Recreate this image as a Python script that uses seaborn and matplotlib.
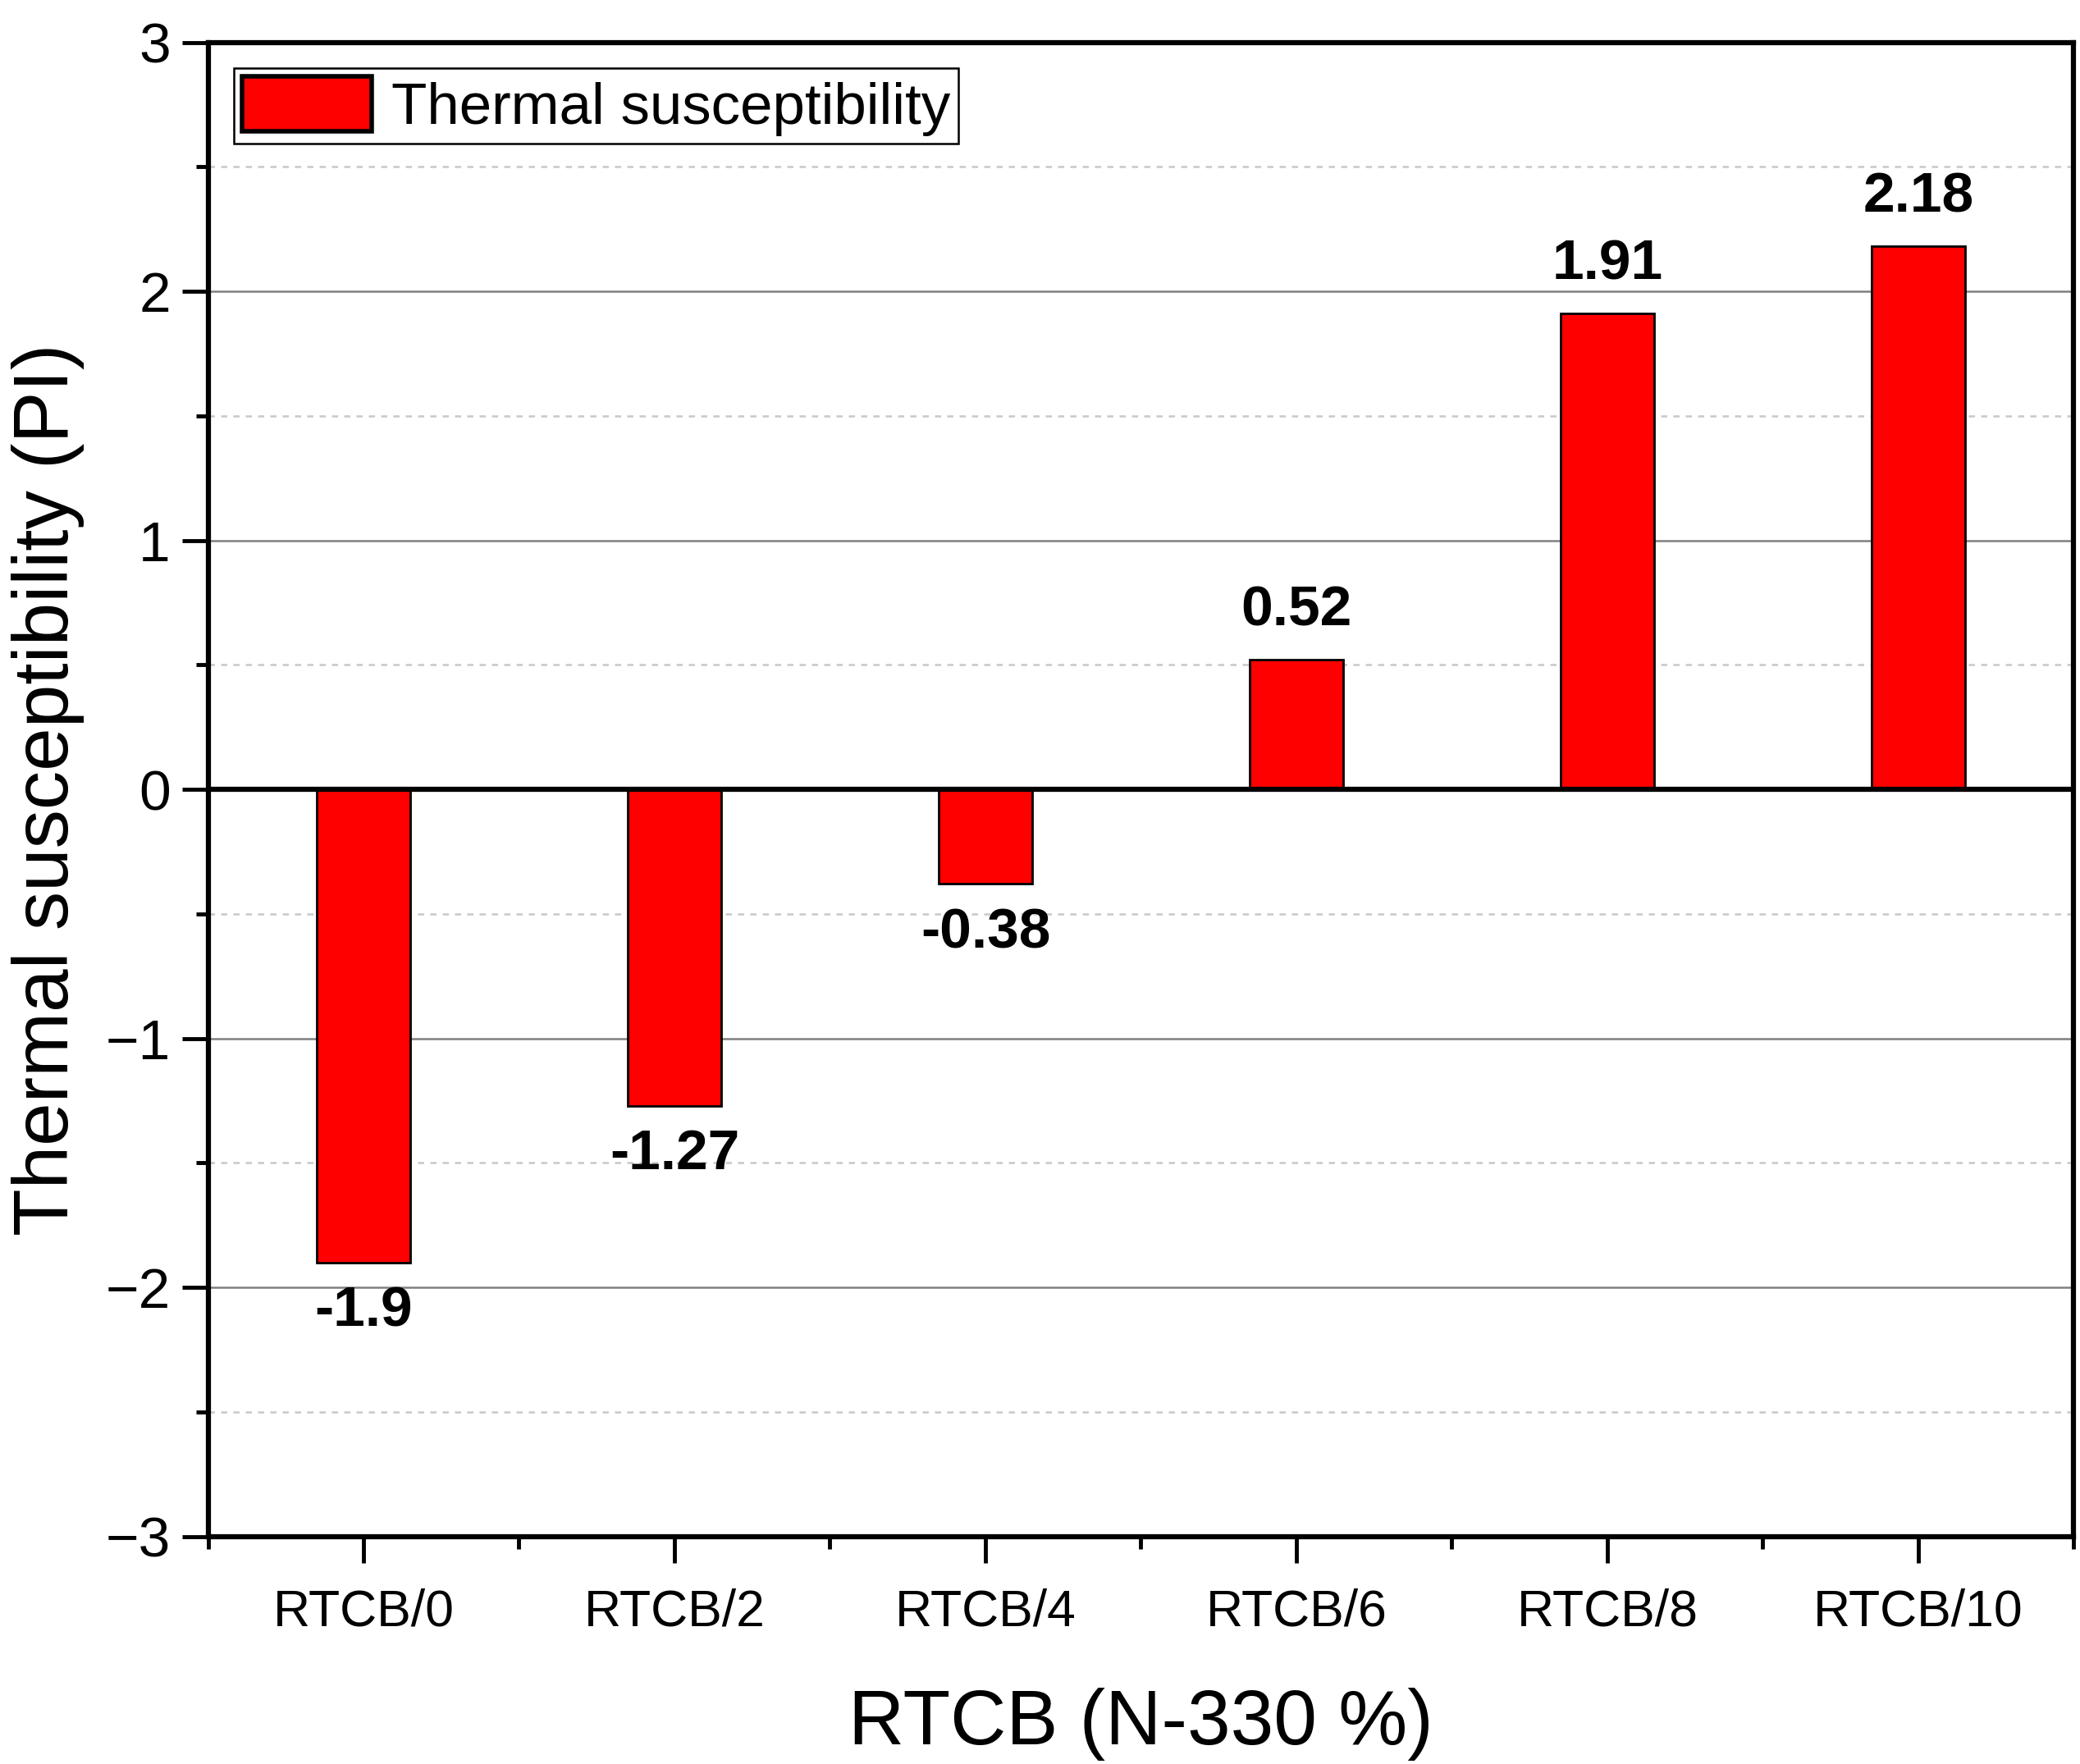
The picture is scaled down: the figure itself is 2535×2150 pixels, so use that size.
import matplotlib
matplotlib.use("Agg")
from matplotlib import pyplot as plt
from matplotlib.ticker import MultipleLocator, FixedLocator
import seaborn as sns

categories = ["RTCB/0", "RTCB/2", "RTCB/4", "RTCB/6", "RTCB/8", "RTCB/10"]
values = [-1.9, -1.27, -0.38, 0.52, 1.91, 2.18]
series_name = "Thermal susceptibility"

sns.set_style("white")
plt.rcParams["font.family"] = ["Liberation Sans", "DejaVu Sans"]
plt.rcParams["text.color"] = "black"
plt.rcParams["axes.labelcolor"] = "black"
plt.rcParams["xtick.color"] = "black"
plt.rcParams["ytick.color"] = "black"

fig = plt.figure(figsize=(25.35, 21.5), dpi=100)
ax = fig.add_axes([0.100, 0.129, 0.897, 0.847])

sns.barplot(x=categories, y=values, color="#ff0000", saturation=1,
            edgecolor="black", linewidth=2.0, width=0.3,
            label=series_name, ax=ax, zorder=3)

ax.set_xlim(-0.5, 5.5)
ax.set_ylim(-3, 3)

# grid
ax.yaxis.set_major_locator(MultipleLocator(1))
ax.yaxis.set_minor_locator(MultipleLocator(0.5))
ax.xaxis.set_minor_locator(FixedLocator([i - 0.5 for i in range(len(categories) + 1)]))
ax.grid(axis="y", which="major", color="#808080", linewidth=1.8, linestyle="-", zorder=0)
ax.grid(axis="y", which="minor", color="#c8c8c8", linewidth=1.8, linestyle=(0, (3, 3)), zorder=0)
ax.set_axisbelow(True)
ax.axhline(0, color="black", linewidth=4.5, zorder=4)

for sp in ax.spines.values():
    sp.set_linewidth(4.5)
    sp.set_color("black")
    sp.set_visible(True)

ax.tick_params(axis="both", which="both", bottom=True, left=True, top=False, right=False,
               direction="out", color="black", labelcolor="black")
ax.tick_params(axis="both", which="major", length=23, width=3.5)
ax.tick_params(axis="both", which="minor", length=11, width=3.5)
ax.tick_params(axis="y", which="major", labelsize=50, pad=10)
ax.tick_params(axis="x", which="major", labelsize=45, pad=22)

ax.set_xlabel("RTCB (N-330 %)", fontsize=68, labelpad=45)
ax.set_ylabel("Thermal susceptibility (PI)", fontsize=68, labelpad=18)

for i, v in enumerate(values):
    off = 20 if v > 0 else -20
    ax.annotate(f"{v:g}", xy=(i, v), xytext=(0, off), textcoords="offset points",
                ha="center", va="bottom" if v > 0 else "top",
                fontsize=50, fontweight="bold", color="black", zorder=5)

leg = ax.legend(loc="upper left", fontsize=51, frameon=True, fancybox=False,
                edgecolor="black", framealpha=1, handlelength=2.23, handleheight=1.09,
                borderpad=0.13, handletextpad=0.35, borderaxespad=0.45)
leg.get_frame().set_linewidth(1.8)
for h in leg.legend_handles:
    h.set_linewidth(4)

fig.savefig("out.png", dpi=100)
